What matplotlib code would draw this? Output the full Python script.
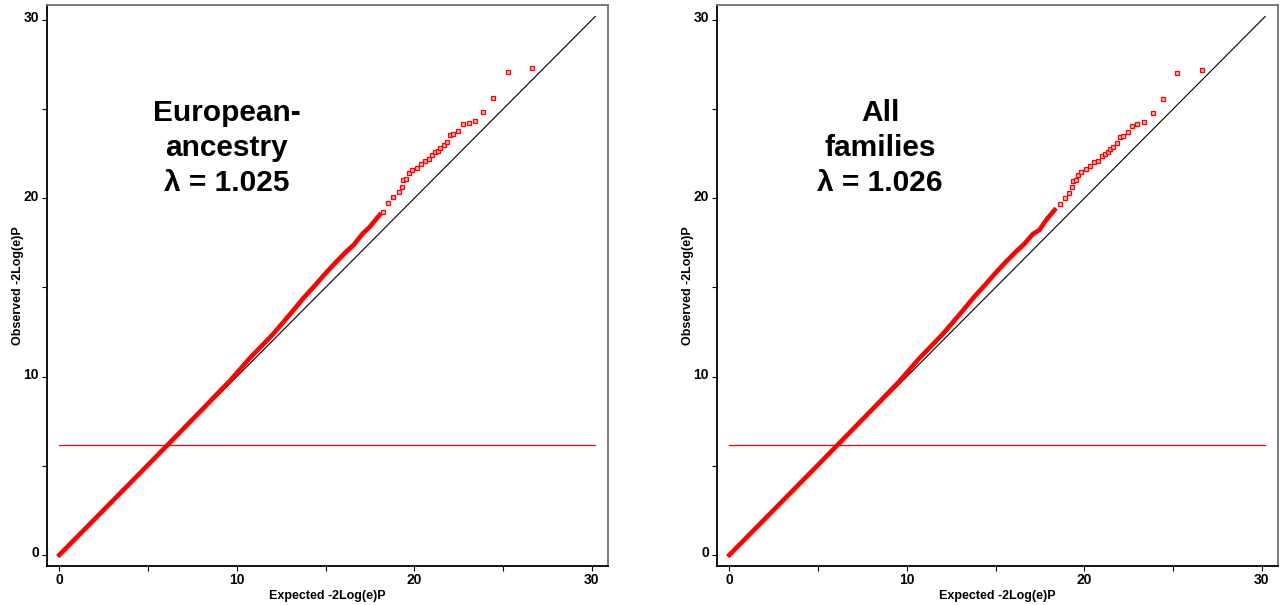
import matplotlib
matplotlib.use('Agg')
import matplotlib.pyplot as plt
import matplotlib.transforms as mtransforms

matplotlib.rcParams['font.family'] = ['Liberation Sans', 'DejaVu Sans']

# 공통: 축 눈금, 기준선
x_ticks = [0, 10, 20, 30]
x_minor = [5, 15, 25]
diag_end = 30.2
threshold = 6.18

# 왼쪽 패널 (European-ancestry) - 촘촘한 구간
eur_dense_x = [0, 1, 2, 3, 4, 5, 6, 7, 8, 9, 9.6, 10.7, 12.06, 13.17, 13.75, 14.48,
               14.88, 15.5, 16.17, 16.6, 17.11, 17.48, 18.05]
eur_dense_y = [0, 1.01, 2.02, 3.03, 4.04, 5.05, 6.07, 7.09, 8.11, 9.14, 9.75, 11.0,
               12.4, 13.7, 14.4, 15.2, 15.66, 16.33, 17.01, 17.4, 18.04, 18.38, 19.07]
# 왼쪽 패널 - 꼬리 부분 점
eur_tail_x = [18.23, 18.51, 18.80, 19.13, 19.29, 19.36, 19.55, 19.70, 19.89, 20.17,
              20.39, 20.58, 20.82, 20.99, 21.18, 21.33, 21.46, 21.65, 21.86, 22.03,
              22.19, 22.45, 22.77, 23.07, 23.45, 23.88, 24.45, 25.31, 26.66]
eur_tail_y = [19.25, 19.73, 20.10, 20.38, 20.66, 21.02, 21.10, 21.41, 21.58, 21.72,
              21.93, 22.11, 22.20, 22.44, 22.59, 22.68, 22.84, 22.98, 23.16, 23.54,
              23.59, 23.78, 24.16, 24.23, 24.34, 24.83, 25.63, 27.11, 27.30]

# 오른쪽 패널 (All families)
all_dense_x = [0, 1, 2, 3, 4, 5, 6, 7, 8, 9, 9.6, 10.7, 12.06, 13.17, 13.75, 14.48,
               14.88, 15.5, 16.17, 16.6, 17.11, 17.48, 17.86, 18.33]
all_dense_y = [0, 1.01, 2.02, 3.03, 4.04, 5.05, 6.07, 7.09, 8.11, 9.14, 9.76, 11.02,
               12.42, 13.72, 14.42, 15.22, 15.68, 16.35, 17.03, 17.42, 18.0, 18.23,
               18.79, 19.35]
all_tail_x = [18.61, 18.89, 19.13, 19.29, 19.36, 19.51, 19.64, 19.83,
              20.11, 20.35, 20.54, 20.80, 20.99, 21.18, 21.31, 21.44, 21.63, 21.83,
              22.00, 22.19, 22.45, 22.70, 23.00, 23.37, 23.88, 24.42, 25.21, 26.66]
all_tail_y = [19.67, 20.01, 20.29, 20.62, 20.96, 21.03, 21.31, 21.46,
              21.63, 21.83, 22.06, 22.11, 22.36, 22.51, 22.59, 22.77, 22.90, 23.09,
              23.46, 23.52, 23.71, 24.08, 24.16, 24.27, 24.77, 25.56, 27.03, 27.22]

panels = [
    ('European-\nancestry\nλ = 1.025', eur_dense_x, eur_dense_y, eur_tail_x, eur_tail_y,
     [46.7, 0.321]),
    ('All\nfamilies\nλ = 1.026', all_dense_x, all_dense_y, all_tail_x, all_tail_y,
     [716.7, 0.291]),
]

W, H = 1282, 605
fig = plt.figure(figsize=(W / 100, H / 100), dpi=100)

for title, dx, dy, tx, ty, (left_px, title_x) in panels:
    ax = fig.add_axes([left_px / W, 39.3 / H, 561 / W, 560.7 / H])
    ax.set_xlim(-0.71, 30.9)
    ax.set_ylim(-0.6, 30.84)

    ax.plot([0, diag_end], [0, diag_end], color='black', lw=0.8, zorder=1)
    ax.plot([0, diag_end], [threshold, threshold], color='#ff0000', lw=0.9, zorder=2)
    ax.plot(dx, dy, color='#ff0000', lw=3.3, solid_capstyle='projecting',
            solid_joinstyle='round', zorder=3)
    ax.plot(tx, ty, ls='none', marker='s', ms=3.3, mec='#ff0000', mfc='#ffb0b0',
            mew=0.9, zorder=4)

    ax.text(title_x, 0.745, title, transform=ax.transAxes, ha='center', va='center',
            fontsize=21.5, fontweight='bold', linespacing=1.3)

    ax.set_xticks(x_ticks)
    ax.set_xticks(x_minor, minor=True)
    ax.set_yticks(x_ticks)
    ax.set_yticks(x_minor, minor=True)
    ax.tick_params(which='both', direction='out', length=3.5, width=0.8,
                   labelsize=10, pad=2)
    for lab in ax.get_xticklabels() + ax.get_yticklabels():
        lab.set_fontweight('bold')
    off = mtransforms.ScaledTranslation(0, 2.2 / 72, fig.dpi_scale_trans)
    for lab in ax.get_yticklabels():
        lab.set_transform(lab.get_transform() + off)

    ax.set_xlabel('Expected -2Log(e)P', fontsize=9, fontweight='bold', labelpad=2)
    ax.set_ylabel('Observed -2Log(e)P', fontsize=9, fontweight='bold', labelpad=0)

    ax.spines['left'].set_linewidth(1.3)
    ax.spines['bottom'].set_linewidth(1.3)
    for s in ['top', 'right']:
        ax.spines[s].set_color('#707070')
        ax.spines[s].set_linewidth(1.3)

fig.savefig('out.png', dpi=100)
